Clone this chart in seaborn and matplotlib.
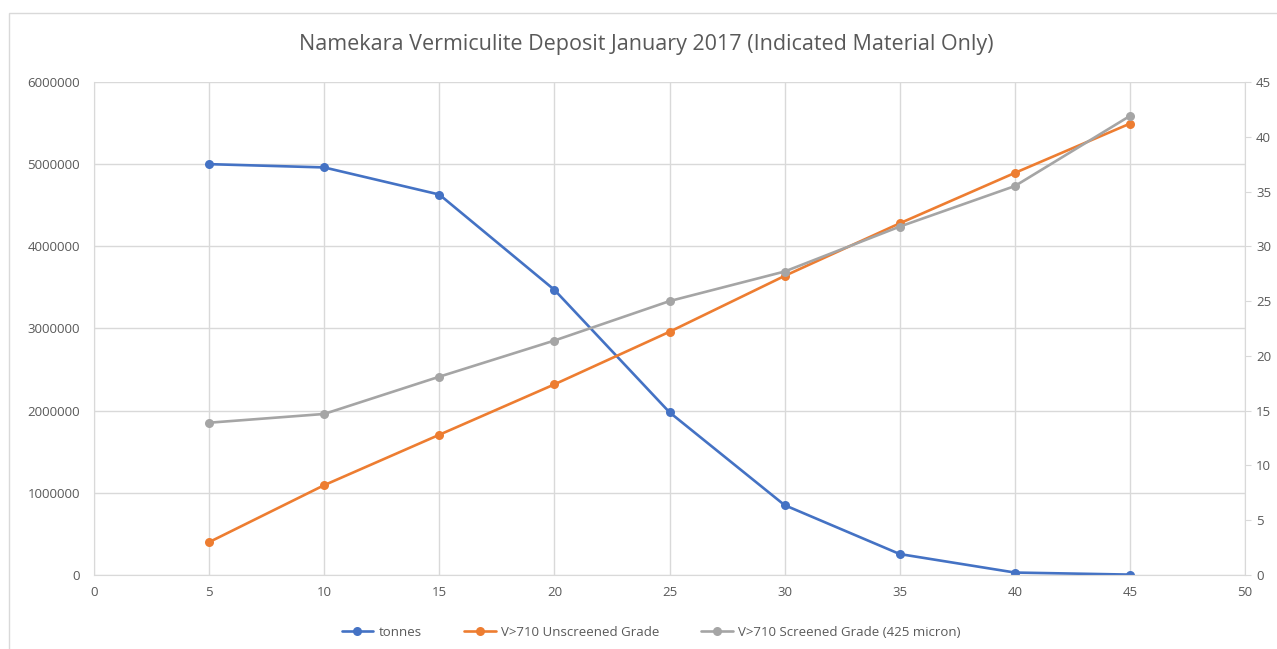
import numpy as np
import pandas as pd
import matplotlib
matplotlib.use("Agg")
import matplotlib.pyplot as plt
import seaborn as sns

# data
cutoff = [5, 10, 15, 20, 25, 30, 35, 40, 45]
tonnes = [5000000, 4960000, 4630000, 3470000, 1980000, 850000, 255000, 30000, 5000]
unscreened = [3.0, 8.2, 12.8, 17.4, 22.2, 27.3, 32.1, 36.7, 41.2]
screened = [13.9, 14.7, 18.1, 21.4, 25.0, 27.7, 31.8, 35.5, 41.9]

title = "Namekara Vermiculite Deposit January 2017 (Indicated Material Only)"
labels = ["tonnes", "V>710 Unscreened Grade", "V>710 Screened Grade (425 micron)"]
colors = ["#4472C4", "#ED7D31", "#A5A5A5"]

sns.set_style("white")
plt.rcParams['font.family'] = ['Open Sans', 'DejaVu Sans']
txt = "#595959"
grid = "#D9D9D9"

df = pd.DataFrame({"cutoff": cutoff, "tonnes": tonnes,
                   "unscreened": unscreened, "screened": screened})

fig = plt.figure(figsize=(12.77, 6.49), dpi=100)
ax = fig.add_axes([0.0736, 0.114, 0.9014, 0.7597])
ax2 = ax.twinx()

kw = dict(marker="o", markersize=6.5, markeredgewidth=0, linewidth=1.9, legend=False)
sns.lineplot(data=df, x="cutoff", y="tonnes", ax=ax, color=colors[0], label=labels[0], **kw)
sns.lineplot(data=df, x="cutoff", y="unscreened", ax=ax2, color=colors[1], label=labels[1], **kw)
sns.lineplot(data=df, x="cutoff", y="screened", ax=ax2, color=colors[2], label=labels[2], **kw)

ax.set_xlim(0, 50)
ax.set_ylim(0, 6000000)
ax.set_xticks(range(0, 51, 5))
ax.set_yticks(range(0, 6000001, 1000000))
ax.set_yticklabels([str(v) for v in range(0, 6000001, 1000000)])
ax2.set_ylim(0, 45)
ax2.set_yticks(range(0, 46, 5))

ax.grid(True, color=grid, linewidth=1)
ax.set_axisbelow(True)
ax.set_xlabel("")
ax.set_ylabel("")
ax2.set_ylabel("")

for a in (ax, ax2):
    for s in a.spines.values():
        s.set_visible(False)
    a.tick_params(colors=txt, labelsize=9.5, length=0)
ax.spines["bottom"].set_visible(True)
ax.spines["bottom"].set_color(grid)
ax.spines["left"].set_visible(True)
ax.spines["left"].set_color(grid)
ax2.spines["right"].set_visible(True)
ax2.spines["right"].set_color(grid)
ax2.tick_params(axis="y", length=4, color=grid, pad=4)
ax.tick_params(axis="x", pad=8)
ax.tick_params(axis="y", pad=10)

fig.suptitle(title, x=0.506, y=0.948, fontsize=15.5, color=txt)

h1, l1 = ax.get_legend_handles_labels()
h2, l2 = ax2.get_legend_handles_labels()
fig.legend(h1 + h2, l1 + l2, loc="center", bbox_to_anchor=(0.51, 0.026), ncol=3,
           frameon=False, fontsize=9.5, labelcolor=txt, handlelength=2.4,
           columnspacing=3.2, handletextpad=0.4)

# light chart-area frame
fig.patches.append(plt.Rectangle((0.007, -0.01), 1.0, 0.99, transform=fig.transFigure,
                                 fill=False, edgecolor="#D9D9D9", linewidth=1))

fig.savefig("out.png", dpi=100)
